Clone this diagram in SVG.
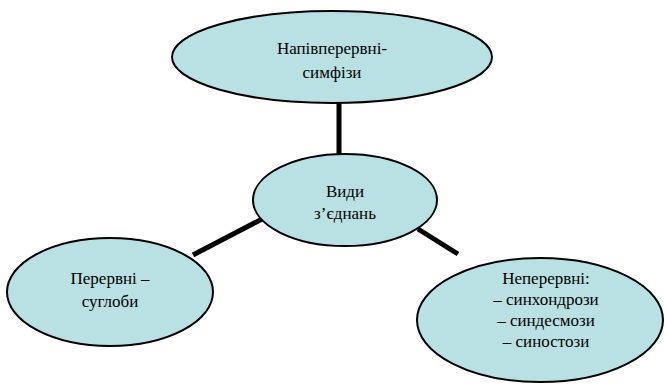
<svg xmlns="http://www.w3.org/2000/svg" width="667" height="384" viewBox="0 0 667 384">
<style>
.node{fill:#b9e0e3;stroke:#000;stroke-width:2}
.lbl{font-family:'Times New Roman','Liberation Serif','DejaVu Serif',serif;font-size:17px;fill:#000;text-anchor:middle}
.conn{stroke:#000;stroke-width:5;fill:none}
</style>
<rect width="667" height="384" fill="#fff"/>
<g id="connectors">
<line class="conn" x1="339" y1="102" x2="339" y2="156"/>
<line class="conn" x1="193" y1="255" x2="264" y2="218"/>
<line class="conn" x1="418" y1="229" x2="458" y2="254"/>
</g>
<g id="node-top">
<ellipse class="node" cx="332" cy="57" rx="160" ry="46"/>
<text class="lbl" x="332" y="54">Напівперервні-</text>
<text class="lbl" x="332" y="78">симфізи</text>
</g>
<g id="node-center">
<ellipse class="node" cx="345" cy="200" rx="92" ry="46"/>
<text class="lbl" x="345" y="197">Види</text>
<text class="lbl" x="345" y="219">з’єднань</text>
</g>
<g id="node-left">
<ellipse class="node" cx="110" cy="292" rx="103" ry="54"/>
<text class="lbl" x="110" y="284">Перервні –</text>
<text class="lbl" x="110" y="307">суглоби</text>
</g>
<g id="node-right">
<ellipse class="node" cx="540" cy="320" rx="123" ry="62"/>
<text class="lbl" x="546" y="284">Неперервні:</text>
<text class="lbl" x="546" y="305">– синхондрози</text>
<text class="lbl" x="546" y="326">– синдесмози</text>
<text class="lbl" x="546" y="347">– синостози</text>
</g>
</svg>
